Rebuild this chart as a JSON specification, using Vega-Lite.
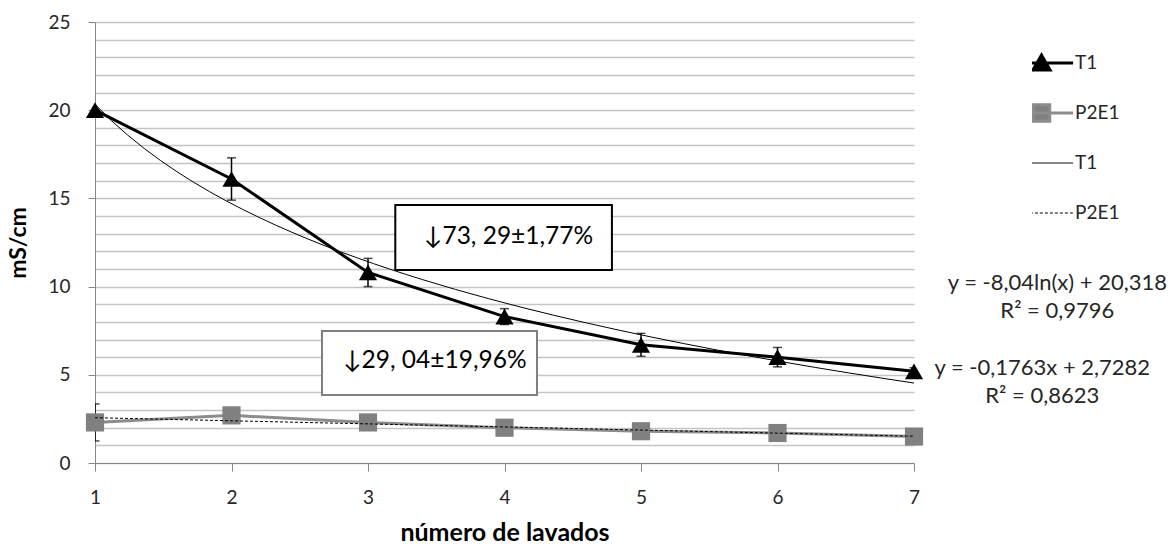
{
  "$schema": "https://vega.github.io/schema/vega-lite/v6.json",
  "width": 819,
  "height": 441,
  "autosize": "none",
  "padding": {"left": 95, "top": 22, "right": 257, "bottom": 81},
  "background": "white",
  "config": {
    "view": {"stroke": null},
    "font": "Lato",
    "axis": {"labelFont": "Lato", "titleFont": "Lato"}
  },
  "data": {"values": [
    {"lavado": 1, "serie": "T1", "valor": 20.0, "error": 0.0},
    {"lavado": 2, "serie": "T1", "valor": 16.1, "error": 1.2},
    {"lavado": 3, "serie": "T1", "valor": 10.8, "error": 0.8},
    {"lavado": 4, "serie": "T1", "valor": 8.3, "error": 0.45},
    {"lavado": 5, "serie": "T1", "valor": 6.7, "error": 0.65},
    {"lavado": 6, "serie": "T1", "valor": 6.0, "error": 0.55},
    {"lavado": 7, "serie": "T1", "valor": 5.2, "error": 0.2},
    {"lavado": 1, "serie": "P2E1", "valor": 2.3, "error": 1.05},
    {"lavado": 2, "serie": "P2E1", "valor": 2.7, "error": 0.3},
    {"lavado": 3, "serie": "P2E1", "valor": 2.3, "error": 0.2},
    {"lavado": 4, "serie": "P2E1", "valor": 2.0, "error": 0.2},
    {"lavado": 5, "serie": "P2E1", "valor": 1.8, "error": 0.2},
    {"lavado": 6, "serie": "P2E1", "valor": 1.7, "error": 0.2},
    {"lavado": 7, "serie": "P2E1", "valor": 1.5, "error": 0.2}
  ]},
  "layer": [
    {
      "mark": {"type": "line", "strokeWidth": 3},
      "encoding": {
        "x": {"field": "lavado", "type": "quantitative",
          "scale": {"domain": [1, 7], "nice": false, "zero": false},
          "axis": {"values": [1, 2, 3, 4, 5, 6, 7], "tickCount": 7, "format": "d", "grid": false,
            "title": "número de lavados", "titleFontSize": 25, "titleFontWeight": "bold", "titleColor": "#000000", "titlePadding": 13,
            "labelFontSize": 19, "labelColor": "#262626", "labelPadding": 17,
            "tickSize": 8, "tickColor": "#868686", "domainColor": "#868686", "labelFlush": false}},
        "y": {"field": "valor", "type": "quantitative", "title": "mS/cm",
          "scale": {"domain": [0, 25], "nice": false, "zero": true},
          "axis": {"values": [0,1,2,3,4,5,6,7,8,9,10,11,12,13,14,15,16,17,18,19,20,21,22,23,24,25],
            "tickCount": 30,
            "labelExpr": "datum.value % 5 === 0 ? datum.label : ''",
            "labelOverlap": false,
            "tickOpacity": {"condition": {"test": "datum.value % 5 === 0", "value": 1}, "value": 0},
            "grid": true, "gridColor": "#c4c4c4", "gridWidth": 1.3,
            "titleFontSize": 23, "titleFontWeight": "bold", "titleColor": "#000000", "titlePadding": 17,
            "labelFontSize": 19, "labelColor": "#262626", "labelPadding": 18,
            "tickSize": 7, "tickColor": "#868686", "domainColor": "#868686"}},
        "color": {"field": "serie", "type": "nominal",
          "scale": {"domain": ["T1", "P2E1", "T1 ", "P2E1 "], "range": ["#000000", "#8c8c8c", "#000000", "#000000"]},
          "legend": {
            "title": null, "orient": "none", "legendX": 937, "legendY": 16, "padding": 0,
            "labelFont": "Lato", "labelFontSize": 19, "labelColor": "#262626",
            "symbolSize": 4000, "rowPadding": 0, "clipHeight": 50, "labelOffset": 24,
            "encode": {"symbols": {"update": {
              "shape": {"signal": "datum.value === 'T1' ? 'M-1,0H1M-0.27,0.22L0,-0.25L0.27,0.22Z' : datum.value === 'P2E1' ? 'M-1,0H1M-0.26,-0.26H0.26V0.26H-0.26Z' : 'M-1,0H1'"},
              "fill": {"signal": "datum.value === 'T1' ? '#000000' : datum.value === 'P2E1' ? '#808080' : 'transparent'"},
              "stroke": {"signal": "datum.value === 'P2E1' ? '#8c8c8c' : '#000000'"},
              "strokeWidth": {"signal": "datum.value === 'T1' || datum.value === 'P2E1' ? 3 : 1"},
              "strokeDash": {"signal": "datum.value === 'P2E1 ' ? [3, 2] : [1, 0]"},
              "opacity": {"value": 1}
            }}}
          }}
      }
    },
    {
      "mark": {"type": "errorbar", "ticks": {"size": 9, "thickness": 1.5, "color": "#000000"}, "rule": {"strokeWidth": 1.5, "color": "#000000"}, "clip": true},
      "encoding": {
        "x": {"field": "lavado", "type": "quantitative"},
        "y": {"field": "valor", "type": "quantitative", "title": "mS/cm"},
        "yError": {"field": "error"}
      }
    },
    {
      "mark": {"type": "point", "filled": true, "opacity": 1, "size": 330, "strokeWidth": 0},
      "encoding": {
        "x": {"field": "lavado", "type": "quantitative"},
        "y": {"field": "valor", "type": "quantitative"},
        "fill": {"field": "serie", "type": "nominal", "scale": {"domain": ["T1", "P2E1"], "range": ["#000000", "#808080"]}, "legend": null},
        "shape": {"field": "serie", "type": "nominal", "scale": {"domain": ["T1", "P2E1"], "range": ["triangle-up", "square"]}, "legend": null}
      }
    },
    {
      "transform": [
        {"filter": "datum.serie === 'T1'"},
        {"regression": "valor", "on": "lavado", "method": "log", "extent": [1, 7]}
      ],
      "mark": {"type": "line", "color": "#000000", "strokeWidth": 1},
      "encoding": {
        "x": {"field": "lavado", "type": "quantitative"},
        "y": {"field": "valor", "type": "quantitative"}
      }
    },
    {
      "transform": [
        {"filter": "datum.serie === 'P2E1'"},
        {"regression": "valor", "on": "lavado", "method": "linear", "extent": [1, 7]}
      ],
      "mark": {"type": "line", "color": "#000000", "strokeWidth": 1, "strokeDash": [3, 2]},
      "encoding": {
        "x": {"field": "lavado", "type": "quantitative"},
        "y": {"field": "valor", "type": "quantitative"}
      }
    },
    {
      "data": {"values": [{"x1": 3.2, "x2": 4.787, "y1": 14.63, "y2": 10.94}]},
      "mark": {"type": "rect", "fill": "#ffffff", "stroke": "#000000", "strokeWidth": 2},
      "encoding": {
        "x": {"field": "x1", "type": "quantitative"}, "x2": {"field": "x2"},
        "y": {"field": "y1", "type": "quantitative"}, "y2": {"field": "y2"}
      }
    },
    {
      "data": {"values": [{"x1": 2.663, "x2": 4.238, "y1": 7.48, "y2": 3.85}]},
      "mark": {"type": "rect", "fill": "#ffffff", "stroke": "#7f7f7f", "strokeWidth": 2},
      "encoding": {
        "x": {"field": "x1", "type": "quantitative"}, "x2": {"field": "x2"},
        "y": {"field": "y1", "type": "quantitative"}, "y2": {"field": "y2"}
      }
    },
    {
      "data": {"values": [
        {"x": 4.03, "y": 12.8, "texto": "↓73, 29±1,77%"},
        {"x": 3.49, "y": 5.8, "texto": "↓29, 04±19,96%"}
      ]},
      "mark": {"type": "text", "font": "Lato", "fontSize": 24.5, "color": "#000000", "align": "center", "baseline": "middle"},
      "encoding": {
        "x": {"field": "x", "type": "quantitative"},
        "y": {"field": "y", "type": "quantitative"},
        "text": {"field": "texto"}
      }
    },
    {
      "data": {"values": [
        {"x": 8.05, "y": 10.2, "texto": "y = -8,04ln(x) + 20,318\nR² = 0,9796"},
        {"x": 7.94, "y": 5.39, "texto": "y = -0,1763x + 2,7282\nR² = 0,8623"}
      ]},
      "mark": {"type": "text", "font": "Lato", "fontSize": 22, "color": "#262626", "align": "center", "baseline": "middle", "lineBreak": "\n", "lineHeight": 28},
      "encoding": {
        "x": {"field": "x", "type": "quantitative"},
        "y": {"field": "y", "type": "quantitative"},
        "text": {"field": "texto"}
      }
    }
  ]
}
